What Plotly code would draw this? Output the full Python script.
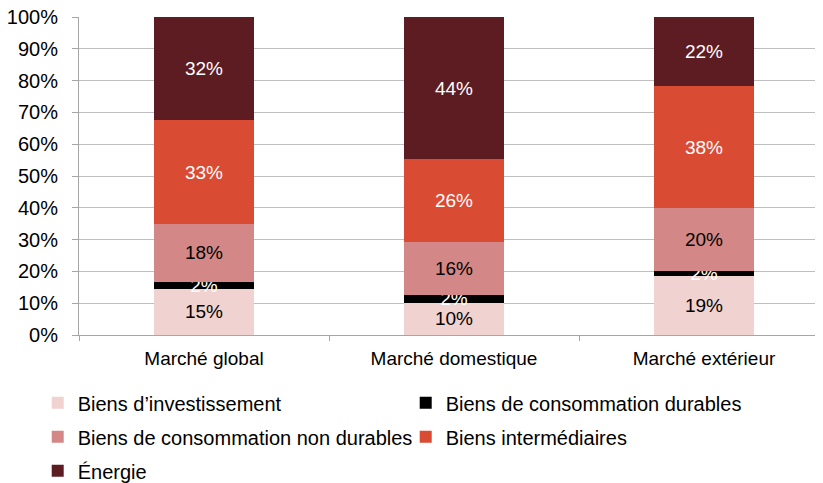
import plotly.graph_objects as go

# categories and series values (percent shares)
categories = ['Marché global', 'Marché domestique', 'Marché extérieur']
series_names = ['Biens d\u2019investissement', 'Biens de consommation durables',
                'Biens de consommation non durables', 'Biens intermédiaires', 'Énergie']
investissement = [14.6, 10.2, 18.6]
durables = [2.1, 2.5, 1.6]
non_durables = [18.2, 16.5, 19.7]
intermediaires = [32.7, 26.1, 38.4]
energie = [32.4, 44.7, 21.7]
labels = {
    'inv': ['15%', '10%', '19%'],
    'dur': ['2%', '2%', '2%'],
    'ndur': ['18%', '16%', '20%'],
    'int': ['33%', '26%', '38%'],
    'ene': ['32%', '44%', '22%'],
}
y_ticks = [0, 10, 20, 30, 40, 50, 60, 70, 80, 90, 100]

colors = ['#F0D2D0', '#000000', '#D38887', '#D94C33', '#5C1C22']
text_colors = ['black', 'white', 'black', 'white', 'white']
values = [investissement, durables, non_durables, intermediaires, energie]
texts = [labels['inv'], labels['dur'], labels['ndur'], labels['int'], labels['ene']]

fig = go.Figure()

for i, (name, vals, txt, color, tcolor) in enumerate(zip(series_names, values, texts, colors, text_colors)):
    fig.add_trace(
        go.Bar(
            x=categories,
            y=vals,
            name=name,
            legendgroup=str(i),
            text=txt,
            textposition='inside',
            insidetextanchor='middle',
            constraintext='none',
            textangle=0,
            textfont={'color': tcolor, 'size': 19},
            marker_color=color,
            marker_line_width=0,
            width=0.4,
        )
    )

# the page body has an 8px margin, so the figure is sized to fit inside the window
fig.update_layout(
    width=815,
    height=475,
    barmode='stack',
    margin={'l': 71, 'r': 0, 't': 9, 'b': 148, 'autoexpand': False},
    paper_bgcolor='white',
    plot_bgcolor='white',
    font={'family': 'Liberation Sans, Arial', 'size': 19, 'color': 'black'},
    showlegend=True,
    legend={
        'orientation': 'h',
        'x': -0.0555,
        'xanchor': 'left',
        'y': -0.152,
        'yanchor': 'top',
        'entrywidth': 323,
        'entrywidthmode': 'pixels',
        'traceorder': 'grouped',
        'tracegroupgap': 5,
        'font': {'size': 20},
        'itemwidth': 30,
    },
)

fig.update_xaxes(
    range=[-0.5, 2.476],
    automargin=False,
    showline=True,
    linecolor='#A6A6A6',
    linewidth=1,
    ticks='outside',
    tickson='boundaries',
    ticklen=5,
    tickcolor='#A6A6A6',
    showgrid=False,
    tickfont={'size': 19},
    ticklabelstandoff=6,
)

fig.update_yaxes(
    range=[0, 100],
    automargin=False,
    tickvals=y_ticks,
    ticktext=[f'{v}%' for v in y_ticks],
    tickfont={'size': 20},
    ticklabeloverflow='allow',
    showline=True,
    linecolor='#A6A6A6',
    ticks='outside',
    ticklen=6,
    tickcolor='#A6A6A6',
    showgrid=True,
    gridcolor='#BFBFBF',
    gridwidth=1,
    zeroline=False,
    ticklabelstandoff=10,
)

fig.write_html('out.html')
